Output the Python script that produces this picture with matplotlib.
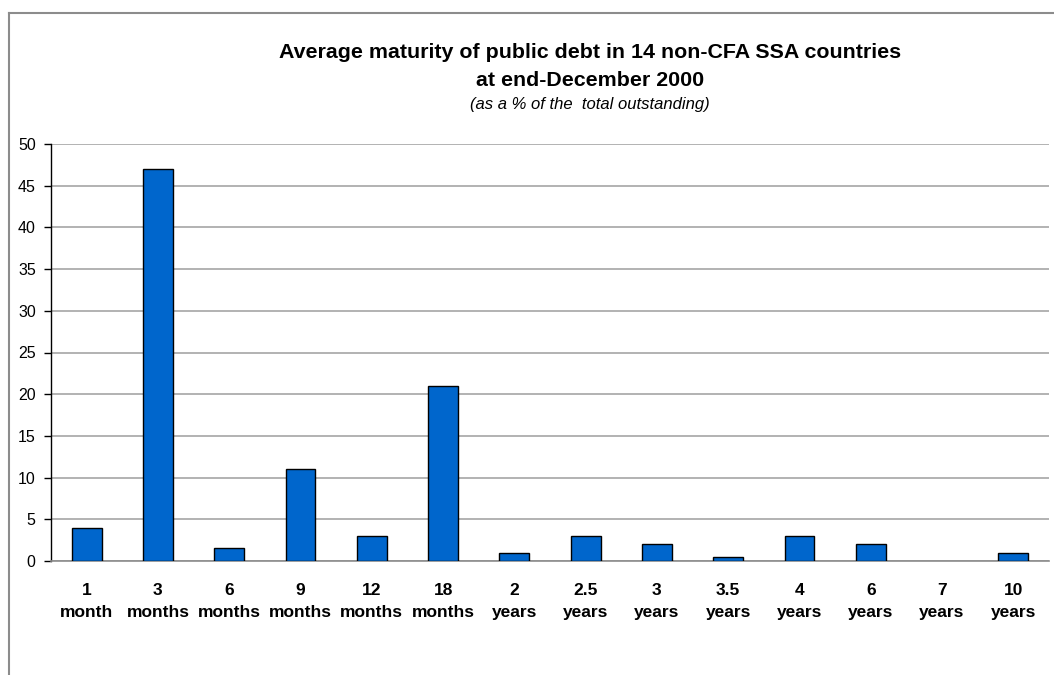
import matplotlib
matplotlib.use("Agg")
import matplotlib.pyplot as plt
from matplotlib.lines import Line2D

plt.rcParams['font.family'] = ['Liberation Sans', 'DejaVu Sans']

# Maturity buckets and share of total outstanding debt (%)
tenor_numbers = ["1", "3", "6", "9", "12", "18", "2", "2.5", "3", "3.5", "4", "6", "7", "10"]
tenor_units = ["month", "months", "months", "months", "months", "months",
               "years", "years", "years", "years", "years", "years", "years", "years"]
share_pct = [4, 47, 1.5, 11, 3, 21, 1, 3, 2, 0.5, 3, 2, 0, 1]
y_ticks = [0, 5, 10, 15, 20, 25, 30, 35, 40, 45, 50]

W, H = 1054, 675
fig = plt.figure(figsize=(W / 100, H / 100), dpi=100)
fig.patch.set_facecolor("white")

# outer chart frame (top and left edges visible)
frame_kw = dict(color="#8c8c8c", linewidth=1.5, transform=fig.transFigure)
fig.add_artist(Line2D([9 / W, 1.0], [1 - 13 / H, 1 - 13 / H], **frame_kw))
fig.add_artist(Line2D([9 / W, 9 / W], [1 - 13 / H, 0.0], **frame_kw))

left, right = 51, 1049
bottom, top = 561, 144
ax = fig.add_axes([left / W, 1 - bottom / H, (right - left) / W, (bottom - top) / H])

x = list(range(len(share_pct)))
# empty buckets get no outline so they leave no stray stroke on the axis
edges = ["black" if v > 0 else "none" for v in share_pct]
ax.bar(x, share_pct, width=0.42, color="#0066CC", edgecolor=edges, linewidth=1.0, zorder=3)

ax.set_xlim(-0.5, len(share_pct) - 0.5)
ax.set_ylim(0, 50)
ax.set_yticks(y_ticks)
ax.set_yticklabels([str(v) for v in y_ticks], fontsize=11.5)
ax.yaxis.grid(True, color="#a6a6a6", linewidth=1.2, zorder=0)

ax.set_xticks(x)
ax.set_xticklabels([f"{n}\n{u}" for n, u in zip(tenor_numbers, tenor_units)],
                   fontsize=12.5, fontweight="bold", linespacing=1.55)
ax.tick_params(axis="x", length=0, pad=16)
ax.tick_params(axis="y", length=5, width=1, pad=6, direction="out")

for side in ("top", "right"):
    ax.spines[side].set_visible(False)
ax.spines["left"].set_color("black")
ax.spines["left"].set_linewidth(1.0)
ax.spines["bottom"].set_color("#8c8c8c")
ax.spines["bottom"].set_linewidth(1.2)

fig.text(590 / W, 1 - 58 / H, "Average maturity of public debt in 14 non-CFA SSA countries",
         ha="center", va="baseline", fontsize=15.4, fontweight="bold")
fig.text(590 / W, 1 - 86 / H, "at end-December 2000",
         ha="center", va="baseline", fontsize=15.4, fontweight="bold")
fig.text(590 / W, 1 - 109 / H, "(as a % of the  total outstanding)",
         ha="center", va="baseline", fontsize=12, style="italic")

fig.savefig("out.png", dpi=100)
